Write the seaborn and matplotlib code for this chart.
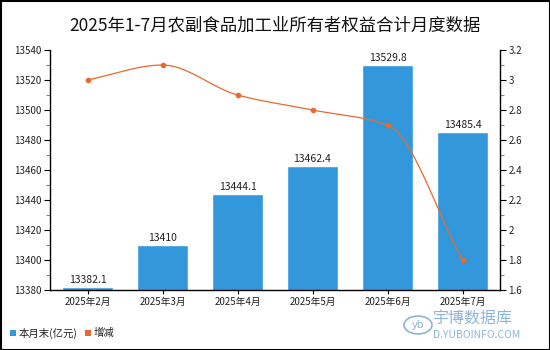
import numpy as np
import pandas as pd
import matplotlib
matplotlib.use("Agg")
import matplotlib.pyplot as plt
import seaborn as sns
from matplotlib.ticker import MultipleLocator, FuncFormatter
from matplotlib.patches import Circle, Rectangle

sns.set_theme(style="white")
plt.rcParams['font.family'] = ['Noto Sans CJK SC', 'DejaVu Sans']

months = ["2025年2月", "2025年3月", "2025年4月", "2025年5月", "2025年6月", "2025年7月"]
values = [13382.1, 13410, 13444.1, 13462.4, 13529.8, 13485.4]
value_labels = ["13382.1", "13410", "13444.1", "13462.4", "13529.8", "13485.4"]
growth = [3.0, 3.1, 2.9, 2.8, 2.7, 1.8]
legend_bar = "本月末(亿元)"
legend_line = "增减"
title = "2025年1-7月农副食品加工业所有者权益合计月度数据"

bar_color = "#3398DB"
line_color = "#E8692D"

df = pd.DataFrame({"month": months, "value": values, "growth": growth})

fig = plt.figure(figsize=(5.5, 3.5), dpi=100)
ax = fig.add_axes([50/550, 1-290/350, 450/550, 240/350])

sns.barplot(data=df, x="month", y="value", color=bar_color, width=0.667,
            saturation=1, ax=ax)
ax.set_ylim(13380, 13540)
ax.yaxis.set_major_locator(MultipleLocator(20))
ax.yaxis.set_minor_locator(MultipleLocator(10))
ax.set_xlabel("")
ax.set_ylabel("")
ax.set_xlim(-0.5, len(months) - 0.5)

for i, (v, lab) in enumerate(zip(values, value_labels)):
    ax.text(i, v + 1.5, lab, ha="center", va="bottom", fontsize=7.5, color="#222222")

ax2 = ax.twinx()
x = np.arange(len(growth))
y = np.array(growth)

# smooth curve through the data points (monotone cubic, Fritsch-Carlson)
def pchip(xk, yk, n=40):
    h = np.diff(xk)
    d = np.diff(yk) / h
    m = np.zeros_like(yk)
    m[0], m[-1] = d[0], d[-1]
    for k in range(1, len(yk) - 1):
        if d[k-1] * d[k] > 0:
            m[k] = 2 / (1/d[k-1] + 1/d[k])
        else:
            m[k] = 0
    xs, ys = [], []
    for k in range(len(xk) - 1):
        t = np.linspace(0, 1, n)
        h00 = 2*t**3 - 3*t**2 + 1
        h10 = t**3 - 2*t**2 + t
        h01 = -2*t**3 + 3*t**2
        h11 = t**3 - t**2
        xs.append(xk[k] + t*h[k])
        ys.append(h00*yk[k] + h10*h[k]*m[k] + h01*yk[k+1] + h11*h[k]*m[k+1])
    return np.concatenate(xs), np.concatenate(ys)

xs, ys = pchip(x.astype(float), y)
ax2.plot(xs, ys, color=line_color, lw=0.9)
sns.scatterplot(x=x, y=y, color=line_color, s=14, ax=ax2, edgecolor=line_color, zorder=5)
ax2.set_ylim(1.6, 3.2)
ax2.yaxis.set_major_locator(MultipleLocator(0.2))
ax2.yaxis.set_minor_locator(MultipleLocator(0.1))
ax2.yaxis.set_major_formatter(FuncFormatter(lambda v, p: f"{v:g}"))
ax2.set_ylabel("")
ax2.set_xlim(-0.5, len(months) - 0.5)

for a in (ax, ax2):
    a.spines["top"].set_visible(False)
    for s in ("left", "right", "bottom"):
        a.spines[s].set_color("black")
        a.spines[s].set_linewidth(1)
    a.grid(False)

ax.spines["right"].set_visible(False)
ax2.spines["left"].set_visible(False)
ax2.spines["bottom"].set_visible(False)

ax.tick_params(axis="y", which="major", direction="out", length=4, width=0.8,
               color="black", labelsize=7, pad=2, left=True)
ax.tick_params(axis="y", which="minor", direction="out", length=3, width=0.8,
               color="#E06060", left=True)
ax.tick_params(axis="x", which="major", direction="out", length=3, width=0.8,
               color="black", labelsize=7, pad=2, bottom=True)
ax2.tick_params(axis="y", which="major", direction="out", length=4, width=0.8,
                color="black", labelsize=7, pad=2, right=True)
ax2.tick_params(axis="y", which="minor", direction="out", length=3, width=0.8,
                color="#E06060", right=True)
for lab in ax.get_yticklabels() + ax2.get_yticklabels() + ax.get_xticklabels():
    lab.set_color("#222222")

fig.text(0.5, 1-25/350, title, ha="center", va="center", fontsize=12.5, color="#111111")

# legend
fig.patches.append(Rectangle((10/550, 1-336/350), 6/550, 6/350, transform=fig.transFigure,
                             facecolor=bar_color, edgecolor="none"))
fig.text(19/550, 1-333/350, legend_bar, ha="left", va="center", fontsize=7.5, color="#222222")
fig.patches.append(Rectangle((85/550, 1-336/350), 6/550, 6/350, transform=fig.transFigure,
                             facecolor=line_color, edgecolor="none"))
fig.text(94/550, 1-333/350, legend_line, ha="left", va="center", fontsize=7.5, color="#222222")

# watermark
wm = "#8DB5DC"
fig.patches.append(Circle((418/550, 1-325/350), 14/550, transform=fig.transFigure,
                          facecolor="none", edgecolor=wm, lw=1.2))
fig.text(418/550, 1-325/350, "yb", ha="center", va="center", fontsize=8, color=wm, style="italic")
fig.text(433/550, 1-319/350, "宇博数据库", ha="left", va="center", fontsize=11.5, color=wm)
fig.text(433/550, 1-335/350, "D.YUBOINFO.COM", ha="left", va="center", fontsize=7.5, color=wm)

# border
fig.patches.append(Rectangle((0.5/550, 0.5/350), 1-1/550, 1-1/350, transform=fig.transFigure,
                             facecolor="none", edgecolor="black", lw=1.5))

fig.savefig("out.png", dpi=100)
